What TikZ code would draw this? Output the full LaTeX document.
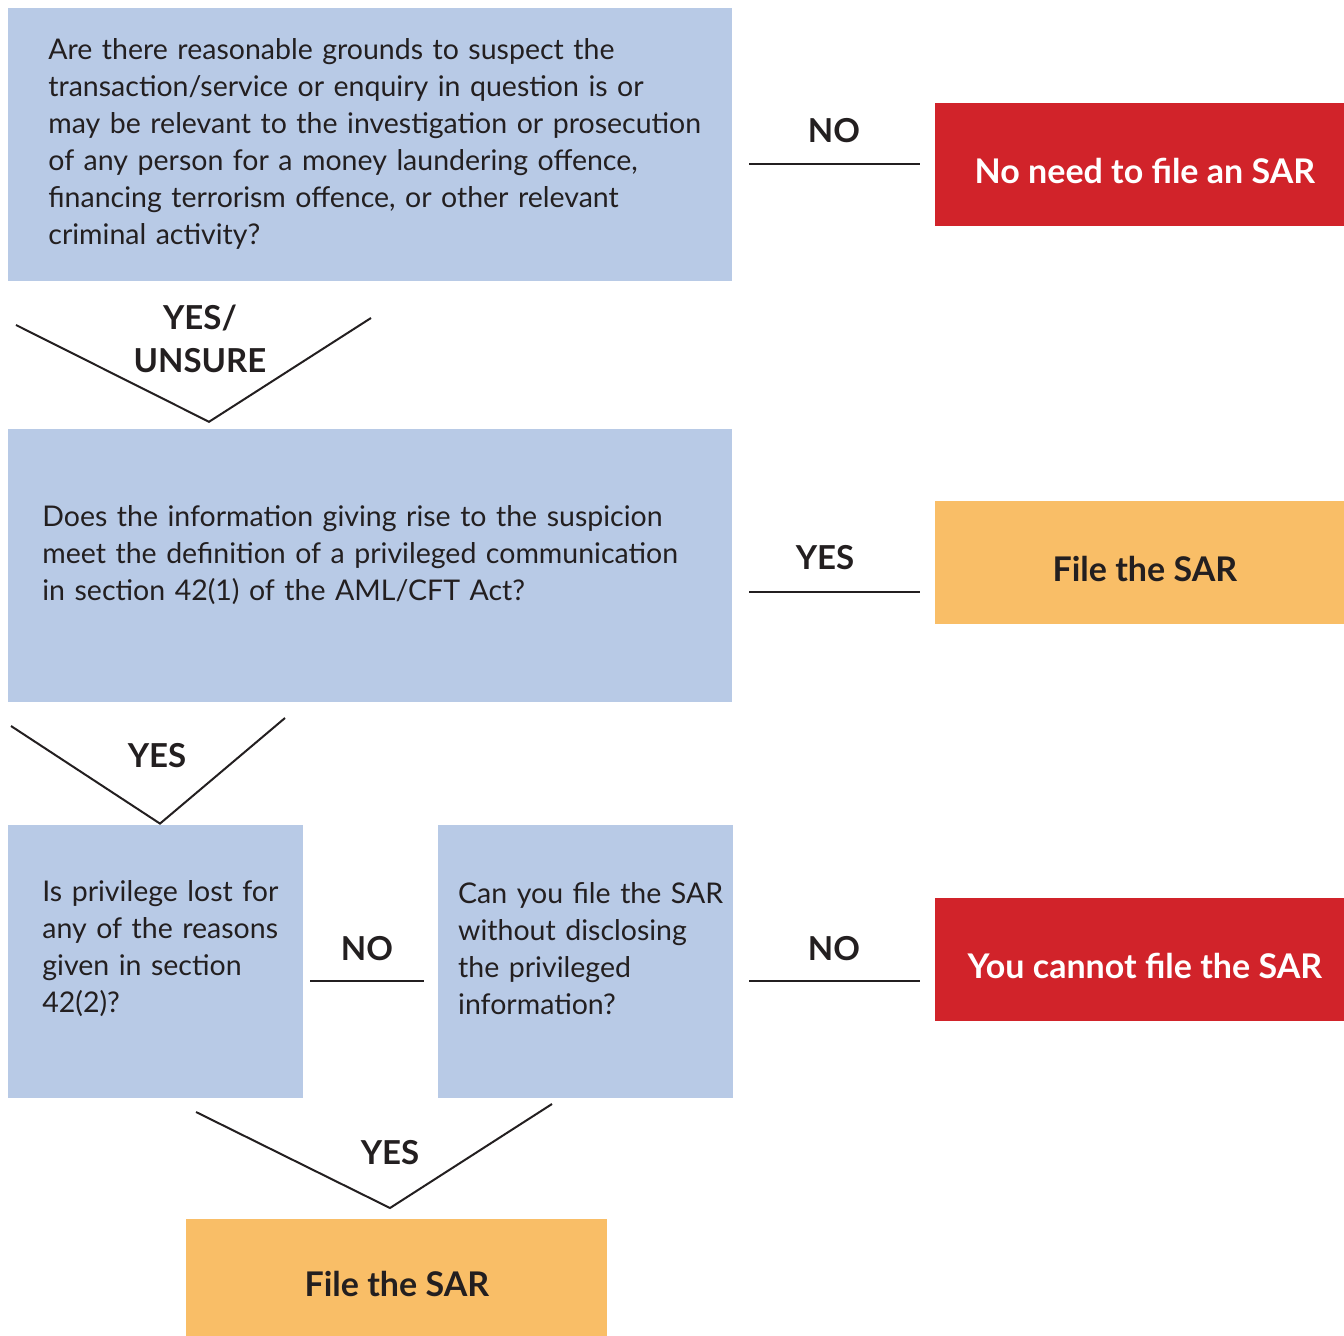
\documentclass[tikz,border=0pt]{standalone}
\usepackage{fontspec}
\setmainfont{Lato}
\usetikzlibrary{positioning}
\definecolor{askblue}{HTML}{B8CAE6}
\definecolor{stopred}{HTML}{D1232A}
\definecolor{fileorange}{HTML}{F9BE67}
\definecolor{ink}{HTML}{231F20}
\tikzset{
  askbox/.style={fill=askblue, inner sep=0pt, anchor=north west},
  asktext/.style={text=ink, font=\fontsize{14.25pt}{18.5pt}\selectfont, align=left, text width=#1, inner sep=0pt, anchor=base west},
  endbox/.style={fill=#1, inner sep=0pt, anchor=north west, minimum width=204.5pt, minimum height=61.5pt,
    font=\fontsize{17pt}{21pt}\bfseries\selectfont, text height=19pt, text depth=0pt},
  answer/.style={text=ink, font=\fontsize{16.5pt}{21.5pt}\bfseries\selectfont, inner sep=0pt, anchor=base, align=center},
  link/.style={draw=ink, line width=1.2pt},
  vee/.style={draw=ink, line width=1pt}
}
\begin{document}
\begin{tikzpicture}[x=0.5pt, y=-0.5pt]
    \useasboundingbox (0,0) rectangle (1344,1336);
    % question boxes
    \node[askbox, minimum width=362pt, minimum height=136.5pt] (q1) at (8,8) {};
    \node[askbox, minimum width=362pt, minimum height=136.5pt, below right=73.5pt and 0pt of q1.south west] (q2) {};
    \node[askbox, minimum width=147.5pt, minimum height=136.5pt, below right=61pt and 0pt of q2.south west] (q3) {};
    \node[askbox, minimum width=147.5pt, minimum height=136.5pt, right=67pt of q3.north east, anchor=north west] (q4) {};
    \node[asktext=400pt] (q1t) at ([xshift=20pt, yshift=-26pt]q1.north west)
      {Are there reasonable grounds to suspect the\\ transaction/service or enquiry in question is or\\ may be relevant to the investigation or prosecution\\ of any person for a money laundering offence,\\ financing terrorism offence, or other relevant\\ criminal activity?};
    \node[asktext=400pt] (q2t) at ([xshift=17pt, yshift=-49pt]q2.north west)
      {Does the information giving rise to the suspicion\\ meet the definition of a privileged communication\\ in section 42(1) of the AML/CFT Act?};
    \node[asktext=200pt] (q3t) at ([xshift=17pt, yshift=-38.5pt]q3.north west)
      {Is privilege lost for\\ any of the reasons\\ given in section\\ 42(2)?};
    \node[asktext=200pt] (q4t) at ([xshift=10pt, yshift=-39.5pt]q4.north west)
      {Can you file the SAR\\ without disclosing\\ the privileged\\ information?};
    % outcome boxes
    \node[endbox=stopred, text=white] (r1) at (935,103) {\hspace*{5pt}No need to file an SAR};
    \node[endbox=fileorange, text=ink] (o1) at (935,501) {\hspace*{5pt}File the SAR};
    \node[endbox=stopred, text=white] (r2) at (935,898) {\hspace*{5pt}You cannot file the SAR};
    \node[endbox=fileorange, text=ink, minimum width=210.5pt, minimum height=58.5pt] (o2) at (186,1219) {File the SAR};
    % horizontal answers
    \coordinate (n1a) at (749,164);  \coordinate (n1b) at (920,164);
    \coordinate (y1a) at (749,592);  \coordinate (y1b) at (920,592);
    \coordinate (n2a) at (749,981);  \coordinate (n2b) at (920,981);
    \coordinate (n3a) at (310,981);  \coordinate (n3b) at (424,981);
    \draw[link] (n1a) -- (n1b);
    \draw[link] (y1a) -- (y1b);
    \draw[link] (n2a) -- (n2b);
    \draw[link] (n3a) -- (n3b);
    \node[answer] (n1) at (834,143) {NO};
    \node[answer] (y1) at (825,570) {YES};
    \node[answer] (n2) at (834,960) {NO};
    \node[answer] (n3) at (367,960) {NO};
    % downward answers
    \coordinate (v1l) at (16,325);   \coordinate (v1r) at (371,318);
    \coordinate (v2l) at (11,726);   \coordinate (v2r) at (285,718);
    \coordinate (v3l) at (196,1112); \coordinate (v3r) at (552,1104);
    \draw[vee] (v1l) -- ([yshift=3.5pt]q2.north -| 209,0) -- (v1r);
    \draw[vee] (v2l) -- ([yshift=0.5pt]q3.north -| 160,0) -- (v2r);
    \draw[vee] (v3l) -- ([yshift=5.5pt]o2.north -| 390,0) -- (v3r);
    \node[answer] (y2) at (200,373) {YES/\\UNSURE};
    \node[answer] (y3) at (157,767) {YES};
    \node[answer] (y4) at (390,1164) {YES};
\end{tikzpicture}
\end{document}
